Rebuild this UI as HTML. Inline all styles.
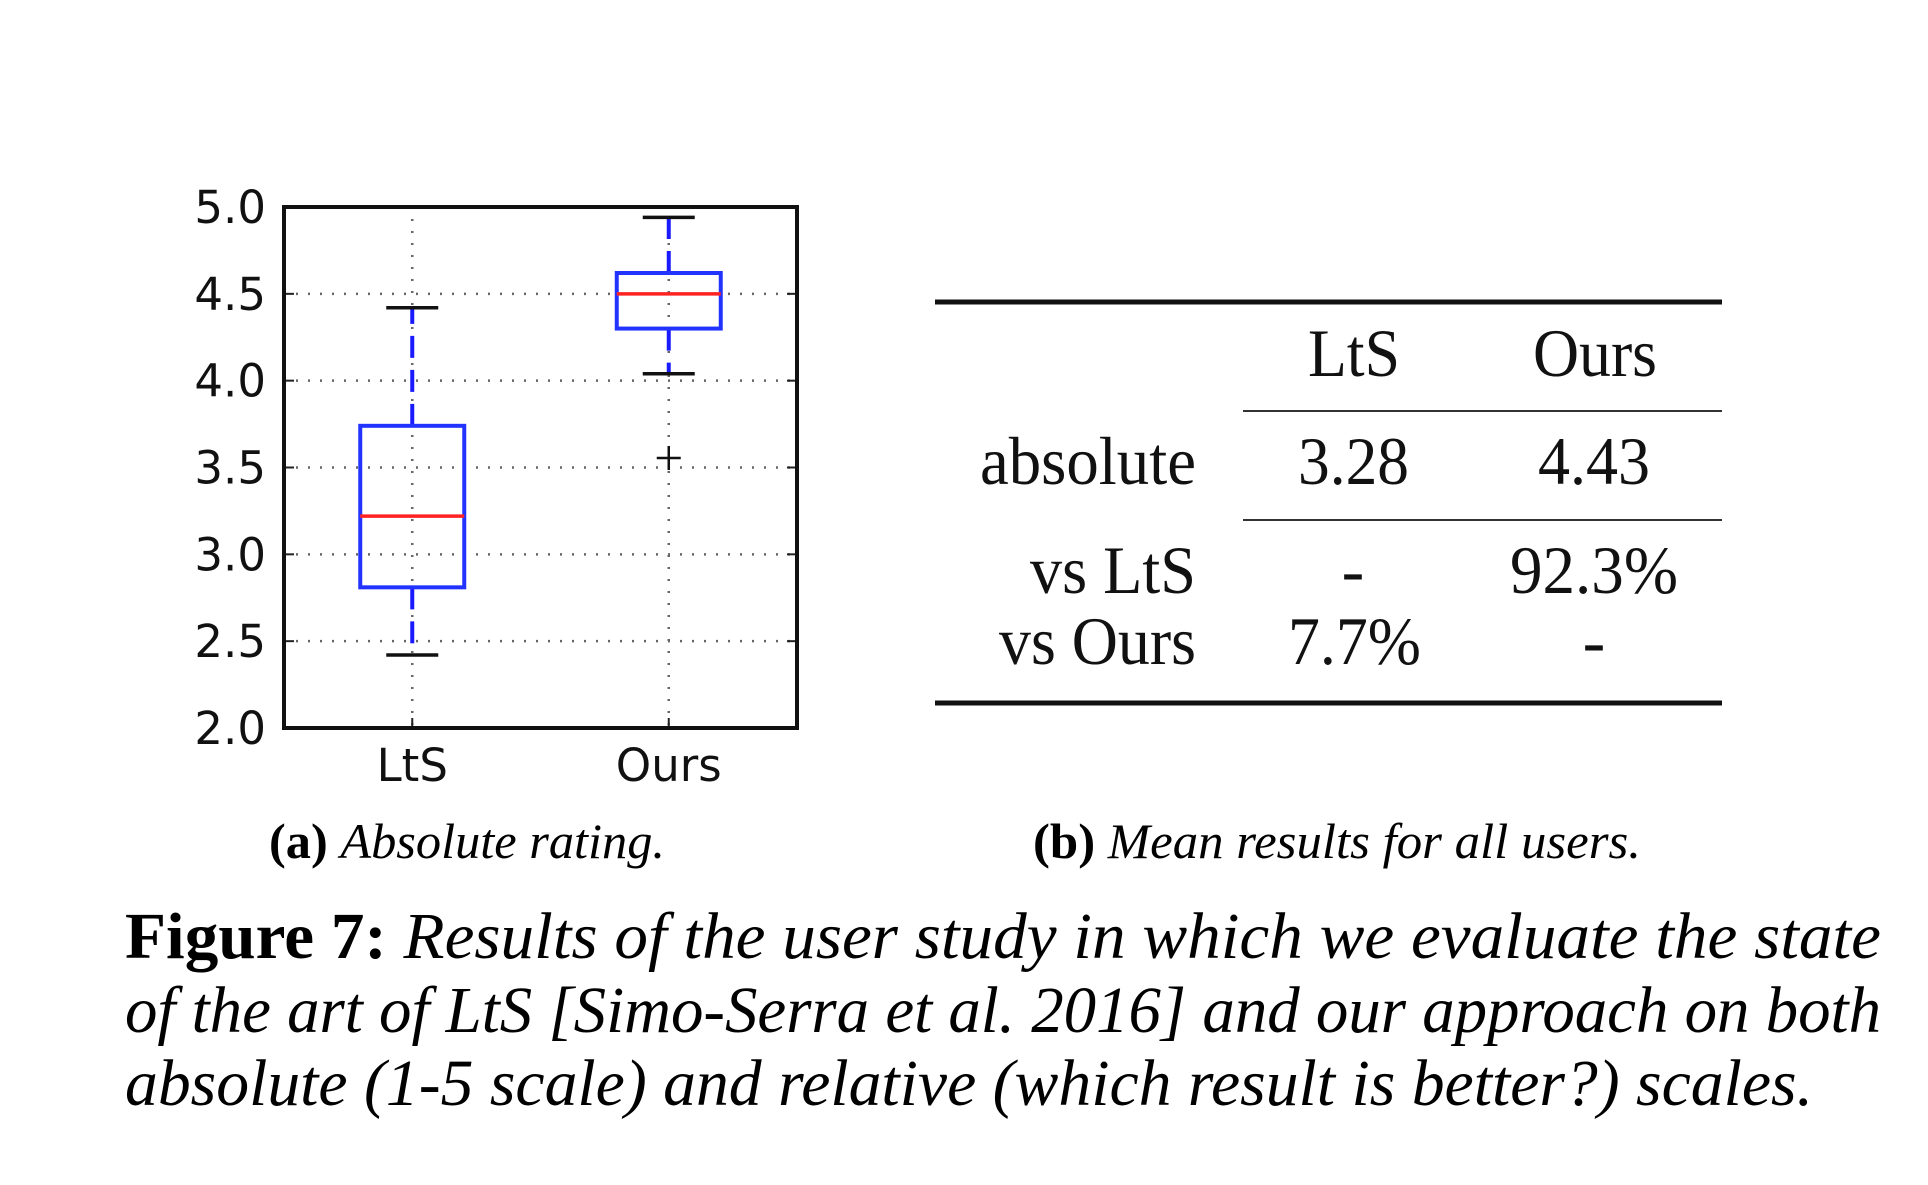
<!DOCTYPE html>
<html><head><meta charset="utf-8"><style>
body{margin:0;background:#fff;}
svg text{font-family:"Liberation Serif",serif;}
</style></head><body>
<svg width="1928" height="1180" xmlns="http://www.w3.org/2000/svg">
<g id="chart"></g>
<g font-size="68" fill="#111">
  <line x1="935" y1="302" x2="1722" y2="302" stroke="#111" stroke-width="5"/>
  <text x="1308" y="376" textLength="92" lengthAdjust="spacingAndGlyphs">LtS</text>
  <text x="1533" y="376" textLength="124" lengthAdjust="spacingAndGlyphs">Ours</text>
  <line x1="1243" y1="411" x2="1722" y2="411" stroke="#333" stroke-width="2"/>
  <text x="980" y="484" textLength="216" lengthAdjust="spacingAndGlyphs">absolute</text>
  <text x="1298" y="484" textLength="111" lengthAdjust="spacingAndGlyphs">3.28</text>
  <text x="1538" y="484" textLength="112" lengthAdjust="spacingAndGlyphs">4.43</text>
  <line x1="1243" y1="520" x2="1722" y2="520" stroke="#333" stroke-width="2"/>
  <text x="1030" y="593" textLength="166" lengthAdjust="spacingAndGlyphs">vs LtS</text>
  <text x="1353" y="593" text-anchor="middle">-</text>
  <text x="1510" y="593" textLength="168" lengthAdjust="spacingAndGlyphs">92.3%</text>
  <text x="999" y="664" textLength="197" lengthAdjust="spacingAndGlyphs">vs Ours</text>
  <text x="1288" y="664" textLength="133" lengthAdjust="spacingAndGlyphs">7.7%</text>
  <text x="1594" y="664" text-anchor="middle">-</text>
  <line x1="935" y1="703" x2="1722" y2="703" stroke="#111" stroke-width="5"/>
</g>
<text x="269" y="858" textLength="396" lengthAdjust="spacingAndGlyphs" font-size="50"><tspan font-weight="bold">(a)</tspan> <tspan font-style="italic">Absolute rating.</tspan></text>
<text x="1033" y="858" textLength="608" lengthAdjust="spacingAndGlyphs" font-size="50"><tspan font-weight="bold">(b)</tspan> <tspan font-style="italic">Mean results for all users.</tspan></text>
<g font-size="66">
  <text x="125" y="958" textLength="1756" lengthAdjust="spacingAndGlyphs"><tspan font-weight="bold">Figure 7:</tspan> <tspan font-style="italic">Results of the user study in which we evaluate the state</tspan></text>
  <text x="125" y="1032" textLength="1756" lengthAdjust="spacingAndGlyphs" font-style="italic">of the art of LtS [Simo-Serra et al. 2016] and our approach on both</text>
  <text x="125" y="1105" textLength="1688" lengthAdjust="spacingAndGlyphs" font-style="italic">absolute (1-5 scale) and relative (which result is better?) scales.</text>
</g>
</svg>
<script>
const categories=["LtS","Ours"];
const q1=[2.81,4.30];
const medians=[3.22,4.50];
const q3=[3.74,4.62];
const whiskLow=[2.42,4.04];
const whiskHigh=[4.42,4.94];
const outliers=[[],[3.555]];
const yTicks=["2.0","2.5","3.0","3.5","4.0","4.5","5.0"];
const yMin=2,yMax=5;
const L=284,R=797,T=207,B=728;
const NS="http://www.w3.org/2000/svg";
const g=document.getElementById('chart');
function y(v){return B-(v-yMin)/(yMax-yMin)*(B-T);}
function x(i){return L+(R-L)*(i+0.5)/categories.length;}
function mk(tag,attrs,parent){const e=document.createElementNS(NS,tag);for(const k in attrs)e.setAttribute(k,attrs[k]);(parent||g).appendChild(e);return e;}
yTicks.forEach(t=>{const v=parseFloat(t);const yy=y(v);
  const gl=mk('line',{x1:L,x2:R,y1:yy,y2:yy,stroke:'#666','stroke-width':2.5,'stroke-dasharray':'2 10'});
  
  
  const tk=mk('line',{x1:L,x2:L+10,y1:yy,y2:yy,stroke:'#222','stroke-width':2});
  
  
  const tk2=mk('line',{x1:R-10,x2:R,y1:yy,y2:yy,stroke:'#222','stroke-width':2});
  
  
  const tl=mk('text',{x:L-18,y:yy+16,'text-anchor':'end','font-size':45,fill:'#111',style:'font-family:"DejaVu Sans",sans-serif'});
  tl.textContent=t;
  
  
});
categories.forEach((c,i)=>{const xx=x(i);
  const vg=mk('line',{x1:xx,x2:xx,y1:T,y2:B,stroke:'#666','stroke-width':2.5,'stroke-dasharray':'2 10'});
  
  
  const tk=mk('line',{x1:xx,x2:xx,y1:B-10,y2:B,stroke:'#222','stroke-width':2});
  
  
  const tl=mk('text',{x:xx,y:B+53,'text-anchor':'middle','font-size':45,fill:'#111',style:'font-family:"DejaVu Sans",sans-serif'});
  tl.textContent=c;
  
  
  const bw=52,cw=26;
  const w1=mk('line',{x1:xx,x2:xx,y1:y(q3[i]),y2:y(whiskHigh[i]),stroke:'#1a1aff','stroke-width':4,'stroke-dasharray':'22 12'});
  
  
  const w2=mk('line',{x1:xx,x2:xx,y1:y(q1[i]),y2:y(whiskLow[i]),stroke:'#1a1aff','stroke-width':4,'stroke-dasharray':'22 12'});
  
  
  const c1=mk('line',{x1:xx-cw,x2:xx+cw,y1:y(whiskHigh[i]),y2:y(whiskHigh[i]),stroke:'#111','stroke-width':3.5});
  
  
  const c2=mk('line',{x1:xx-cw,x2:xx+cw,y1:y(whiskLow[i]),y2:y(whiskLow[i]),stroke:'#111','stroke-width':3.5});
  
  
  const bx=mk('rect',{x:xx-bw,y:y(q3[i]),width:2*bw,height:y(q1[i])-y(q3[i]),fill:'none',stroke:'#2233ff','stroke-width':4});
  
  
  const md=mk('line',{x1:xx-bw,x2:xx+bw,y1:y(medians[i]),y2:y(medians[i]),stroke:'#ff2222','stroke-width':3.5});
  
  
  outliers[i].forEach(o=>{
    const p=mk('path',{d:`M${xx-12},${y(o)}H${xx+12}M${xx},${y(o)-12}V${y(o)+12}`,stroke:'#111','stroke-width':2.5});
    
    
  });
});
const fr=mk('rect',{x:L,y:T,width:R-L,height:B-T,fill:'none',stroke:'#111','stroke-width':4});


</script>
</body></html>
